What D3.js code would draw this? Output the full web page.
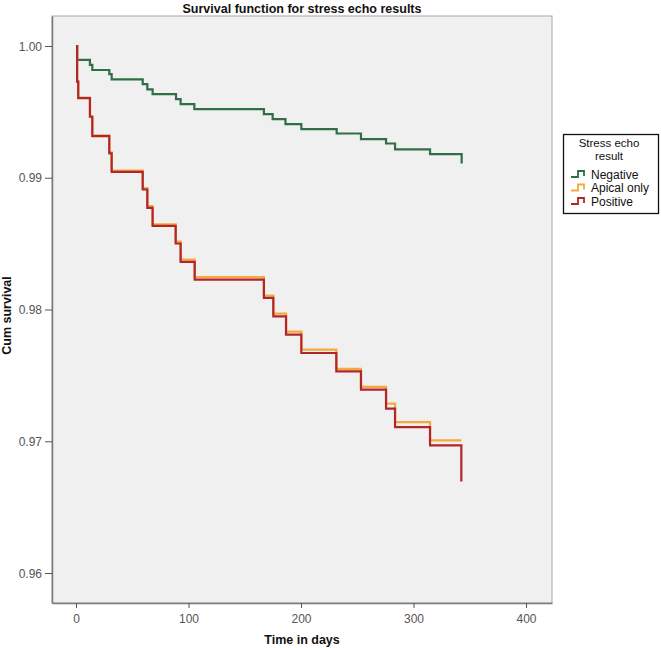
<!DOCTYPE html>
<html>
<head>
<meta charset="utf-8">
<script src="https://cdn.jsdelivr.net/npm/d3@7/dist/d3.min.js"></script>
<style>
  html, body { margin: 0; padding: 0; background: #ffffff; }
  svg { display: block; font-family: Arial, "Liberation Sans", sans-serif; }
</style>
</head>
<body>
<svg id="chart" width="661" height="648"></svg>
<script>
// ---- data ----
const seriesNames = ["Negative", "Apical only", "Positive"];

const negativeDays = [0, 1, 12.4, 14.5, 29.6, 31.7, 59.3, 63.4, 68.1, 88.9, 93, 105.2, 167, 174.8, 186.2, 200.3, 231.7, 253.3, 275.6, 283.6, 314.7, 342.8];
const negativeSurv = [1.0, 0.99894, 0.99856, 0.99818, 0.99787, 0.99747, 0.99711, 0.99671, 0.99635, 0.99597, 0.99559, 0.99521, 0.99483, 0.99445, 0.99407, 0.99369, 0.99336, 0.99293, 0.9926, 0.99215, 0.9918, 0.99108];

const apicalDays = [0, 1, 2, 12.4, 14.5, 29.6, 31.7, 59.3, 63.4, 68.1, 88.6, 93, 105.5, 167, 175.4, 186.7, 200.3, 231.4, 253.3, 275.6, 283.6, 314.7, 342.5];
const apicalSurv = [1.0, 0.9973, 0.99608, 0.99466, 0.99322, 0.99192, 0.99055, 0.98922, 0.98784, 0.98647, 0.98516, 0.98379, 0.98245, 0.98106, 0.97969, 0.97832, 0.97695, 0.9755, 0.97413, 0.97286, 0.97145, 0.97006, 0.97006];

const positiveDays = [0, 1, 2, 12.4, 14.5, 29.6, 31.7, 59.3, 63.4, 68.1, 88.6, 93, 105.5, 167, 175.4, 186.7, 200.3, 231.4, 253.3, 275.6, 283.6, 314.7, 342.5];
const positiveSurv = [1.0, 0.9973, 0.99605, 0.99463, 0.99316, 0.99185, 0.99045, 0.98911, 0.98771, 0.98634, 0.98501, 0.98361, 0.98227, 0.98088, 0.97948, 0.97809, 0.9767, 0.9753, 0.97392, 0.97248, 0.97107, 0.96968, 0.96694];

const xTicks = [0, 100, 200, 300, 400];
const yTicks = [0.96, 0.97, 0.98, 0.99, 1.00];
const seriesColors = ["#2f6e46", "#f5a93a", "#b0262a"];

// ---- layout ----
const svg = d3.select("#chart");
const plot = { left: 52, right: 552, top: 16, bottom: 603 };

const x = d3.scaleLinear().domain([-21.33, 423.1]).range([plot.left, plot.right]);
const y = d3.scaleLinear().domain([0.957723, 1.002277]).range([plot.bottom, plot.top]);

// plot background + frame
svg.append("rect")
  .attr("x", plot.left).attr("y", plot.top)
  .attr("width", plot.right - plot.left).attr("height", plot.bottom - plot.top)
  .attr("fill", "#f0f0f0").attr("stroke", "#a8a8a8").attr("stroke-width", 1);

// axes
const yAxis = svg.append("g")
  .attr("transform", `translate(${plot.left},0)`)
  .call(d3.axisLeft(y).tickValues(yTicks).tickFormat(d3.format(".2f")).tickSize(7).tickSizeOuter(0));
const xAxis = svg.append("g")
  .attr("transform", `translate(0,${plot.bottom})`)
  .call(d3.axisBottom(x).tickValues(xTicks).tickFormat(d3.format("d")).tickSize(5).tickSizeOuter(0));

[yAxis, xAxis].forEach(g => {
  g.select(".domain").attr("stroke", "#7a7a7a").attr("stroke-width", 1.5);
  g.selectAll(".tick line").attr("stroke", "#555").attr("stroke-width", 1);
  g.selectAll(".tick text").attr("fill", "#555").attr("font-size", 12)
    .attr("font-family", "Arial, 'Liberation Sans', sans-serif");
});
yAxis.selectAll(".tick text").attr("x", -10).attr("dy", "0.35em");
xAxis.selectAll(".tick text").attr("y", 11).attr("dy", "0.71em");

// lines
const line = d3.line()
  .x(d => x(d[0]))
  .y(d => y(d[1]))
  .curve(d3.curveStepAfter);

const seriesData = [
  d3.zip(negativeDays, negativeSurv),
  d3.zip(apicalDays, apicalSurv),
  d3.zip(positiveDays, positiveSurv)
];

svg.append("g").selectAll("path")
  .data(seriesData)
  .join("path")
  .attr("d", line)
  .attr("fill", "none")
  .attr("stroke", (d, i) => seriesColors[i])
  .attr("stroke-width", 2.2)
  .attr("stroke-linejoin", "miter");

// title
svg.append("text")
  .attr("x", (plot.left + plot.right) / 2).attr("y", 13)
  .attr("text-anchor", "middle")
  .attr("font-size", 12.5).attr("font-weight", "bold").attr("fill", "#111")
  .text("Survival function for stress echo results");

// axis titles
svg.append("text")
  .attr("x", (plot.left + plot.right) / 2).attr("y", 644)
  .attr("text-anchor", "middle")
  .attr("font-size", 12.5).attr("font-weight", "bold").attr("fill", "#111")
  .text("Time in days");

svg.append("text")
  .attr("transform", `translate(11,${(plot.top + plot.bottom) / 2 + 6}) rotate(-90)`)
  .attr("text-anchor", "middle")
  .attr("font-size", 12.5).attr("font-weight", "bold").attr("fill", "#111")
  .text("Cum survival");

// legend
const lg = svg.append("g");
lg.append("rect")
  .attr("x", 563.5).attr("y", 134.5).attr("width", 95).attr("height", 79)
  .attr("fill", "#ffffff").attr("stroke", "#111").attr("stroke-width", 1.3);
lg.append("text").attr("x", 609).attr("y", 146.5).attr("text-anchor", "middle")
  .attr("font-size", 11.5).attr("fill", "#111").text("Stress echo");
lg.append("text").attr("x", 609).attr("y", 160).attr("text-anchor", "middle")
  .attr("font-size", 11.5).attr("fill", "#111").text("result");

const legendY = d3.scalePoint().domain(seriesNames).range([174, 201]);
const items = lg.selectAll("g.item").data(seriesNames).join("g").attr("class", "item")
  .attr("transform", d => `translate(0,${legendY(d)})`);
items.append("path")
  .attr("d", "M571,3 H578 V-3 H584 V2")
  .attr("fill", "none")
  .attr("stroke", (d, i) => seriesColors[i])
  .attr("stroke-width", 1.8);
items.append("text")
  .attr("x", 591).attr("y", 4.5)
  .attr("font-size", 12).attr("fill", "#111")
  .text(d => d);
</script>
</body>
</html>
